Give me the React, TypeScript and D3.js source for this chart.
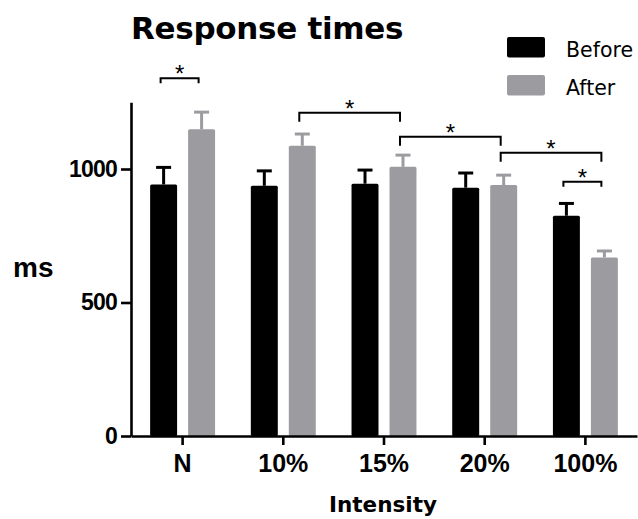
import * as d3 from "d3";
import { useEffect, useRef } from "react";

const categories = ["N", "10%", "15%", "20%", "100%"];
const seriesNames = ["Before", "After"];
const beforeMeans = [942, 937, 945, 930, 825];
const beforeErr = [64, 56, 51, 55, 46];
const afterMeans = [1149, 1087, 1008, 940, 669];
const afterErr = [64, 44, 44, 37, 24];
const yTicks = [0, 500, 1000];
const yMax = 1250;

// significance brackets: [category, series] -> [category, series] at a level (ms)
const brackets = [
  { from: ["N", "Before"], to: ["N", "After"], level: 1340 },
  { from: ["10%", "After"], to: ["15%", "After"], level: 1211 },
  { from: ["15%", "After"], to: ["20%", "After"], level: 1121 },
  { from: ["20%", "After"], to: ["100%", "After"], level: 1061 },
  { from: ["100%", "Before"], to: ["100%", "After"], level: 952 },
];

const colors = { Before: "#000000", After: "#9c9ca0" };

const W = 638;
const H = 519;
const margin = { top: 102, bottom: 83, left: 131, right: 1 };

const App = () => {
  const ref = useRef(null);

  useEffect(() => {
    const svg = d3.select(ref.current);
    svg.selectAll("*").remove();

    const x0 = d3
      .scaleBand()
      .domain(categories)
      .range([margin.left, W - margin.right])
      .paddingInner(0.355)
      .paddingOuter(0.19);
    const x1 = d3
      .scaleBand()
      .domain(seriesNames)
      .range([0, x0.bandwidth()])
      .paddingInner(0.29);
    const y = d3
      .scaleLinear()
      .domain([0, yMax])
      .range([H - margin.bottom, H - margin.bottom - yMax * 0.267]);

    const rows = categories.map((c, i) => ({
      cat: c,
      vals: [
        { s: "Before", m: beforeMeans[i], e: beforeErr[i] },
        { s: "After", m: afterMeans[i], e: afterErr[i] },
      ],
    }));

    const cx = (c, s) => x0(c) + x1(s) + x1.bandwidth() / 2;

    // error bars (behind bars)
    const g = svg.append("g");
    rows.forEach((r) => {
      r.vals.forEach((v) => {
        const px = cx(r.cat, v.s);
        g.append("line")
          .attr("x1", px).attr("x2", px)
          .attr("y1", y(v.m)).attr("y2", y(v.m + v.e))
          .attr("stroke", colors[v.s]).attr("stroke-width", 3);
        g.append("line")
          .attr("x1", px - 7.5).attr("x2", px + 7.5)
          .attr("y1", y(v.m + v.e)).attr("y2", y(v.m + v.e))
          .attr("stroke", colors[v.s]).attr("stroke-width", 3);
      });
    });

    // bars
    rows.forEach((r) => {
      g.selectAll(null)
        .data(r.vals)
        .enter()
        .append("rect")
        .attr("x", (d) => x0(r.cat) + x1(d.s))
        .attr("y", (d) => y(d.m))
        .attr("width", x1.bandwidth())
        .attr("height", (d) => y(0) - y(d.m))
        .attr("rx", 1.5)
        .attr("fill", (d) => colors[d.s]);
    });

    // axes
    const yAxis = svg
      .append("g")
      .attr("transform", `translate(${margin.left},0)`)
      .call(
        d3.axisLeft(y)
          .tickValues(yTicks)
          .tickFormat(d3.format("d"))
          .tickSize(10)
          .tickPadding(4)
          .tickSizeOuter(0)
      );
    yAxis.select(".domain").attr("stroke-width", 2.6);
    yAxis.selectAll(".tick line").attr("stroke-width", 2.6);
    yAxis
      .selectAll("text")
      .attr("font-family", "Liberation Sans, Arial, sans-serif")
      .attr("font-weight", "bold")
      .attr("font-size", 23)
      .attr("letter-spacing", -0.8)
      .attr("fill", "#000");

    const xAxis = svg
      .append("g")
      .attr("transform", `translate(0,${y(0)})`)
      .call(d3.axisBottom(x0).tickSize(9).tickPadding(9).tickSizeOuter(0));
    xAxis.select(".domain").attr("stroke-width", 2.6);
    xAxis.selectAll(".tick line").attr("stroke-width", 2.6);
    xAxis
      .selectAll("text")
      .attr("font-family", "Liberation Sans, Arial, sans-serif")
      .attr("font-weight", "bold")
      .attr("font-size", 25)
      .attr("fill", "#000");

    // significance brackets
    brackets.forEach((b) => {
      const xa = cx(b.from[0], b.from[1]) - 3;
      const xb = cx(b.to[0], b.to[1]) - 3;
      const yl = y(b.level);
      const drop = b.from[0] === b.to[0] ? 5 : 9;
      svg
        .append("path")
        .attr("d", `M${xa},${yl + drop}V${yl}H${xb}V${yl + drop}`)
        .attr("fill", "none")
        .attr("stroke", "#000")
        .attr("stroke-width", 2);
      svg
        .append("text")
        .attr("x", (xa + xb) / 2)
        .attr("y", yl + 4)
        .attr("text-anchor", "middle")
        .attr("font-family", "Liberation Sans, Arial, sans-serif")
        .attr("font-size", 24)
        .text("*");
    });

    // titles
    svg
      .append("text")
      .attr("x", 131)
      .attr("y", 38.5)
      .attr("font-family", "DejaVu Sans, sans-serif")
      .attr("font-weight", "bold")
      .attr("font-size", 31)
      .attr("letter-spacing", -0.3)
      .text("Response times");
    svg
      .append("text")
      .attr("x", (x0.range()[0] + x0.range()[1]) / 2 - 1)
      .attr("y", 512)
      .attr("text-anchor", "middle")
      .attr("font-family", "DejaVu Sans, sans-serif")
      .attr("font-weight", "bold")
      .attr("font-size", 21.5)
      .text("Intensity");
    svg
      .append("text")
      .attr("x", 13)
      .attr("y", 277)
      .attr("font-family", "Liberation Sans, Arial, sans-serif")
      .attr("font-weight", "bold")
      .attr("font-size", 28)
      .text("ms");

    // legend
    const leg = svg.append("g").attr("transform", "translate(507,37)");
    seriesNames.forEach((s, i) => {
      leg.append("rect")
        .attr("x", 0).attr("y", i * 38)
        .attr("width", 38).attr("height", 20.5)
        .attr("rx", 2)
        .attr("fill", colors[s]);
      leg.append("text")
        .attr("x", 59).attr("y", i * 38 + 19.5)
        .attr("font-family", "DejaVu Sans, sans-serif")
        .attr("font-size", 20.5)
        .text(s);
    });
  }, []);

  return (
    <svg
      ref={ref}
      width={W}
      height={H}
      style={{ position: "absolute", left: 0, top: 0, background: "#fff" }}
    ></svg>
  );
};

export default App;
